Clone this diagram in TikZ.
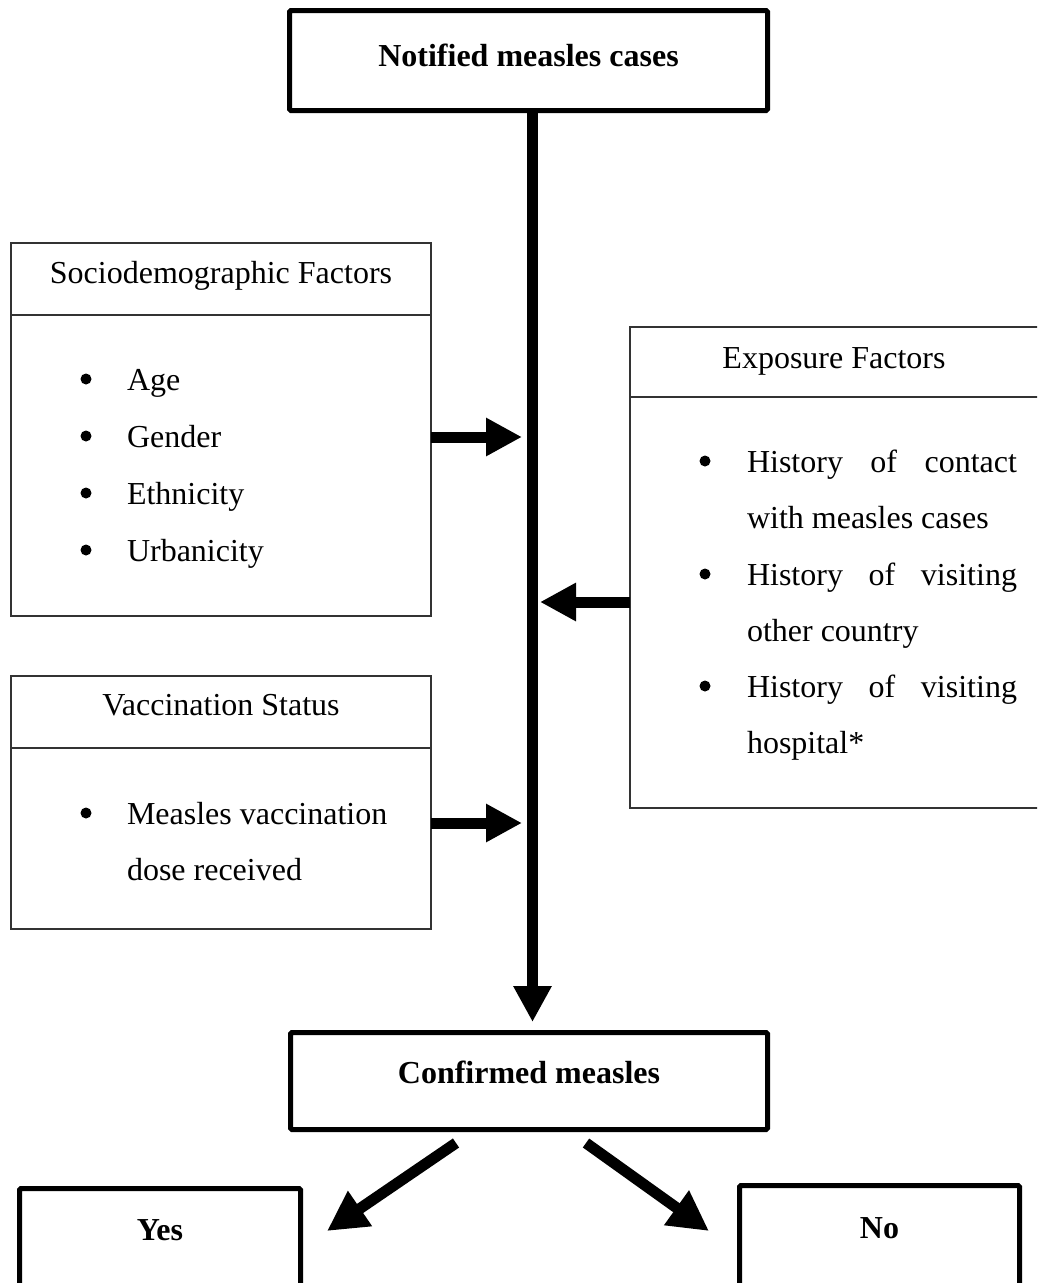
\documentclass[tikz,border=0pt]{standalone}
\usepackage{fontspec}
\setmainfont{Liberation Serif}
\usetikzlibrary{arrows.meta}
\begin{document}
\begin{tikzpicture}[x=1pt,y=-1pt,
  every node/.style={font=\fontsize{32}{38}\selectfont, inner sep=0pt, outer sep=0pt},
  heavybox/.style={draw, line width=5pt, rounded corners=1.5pt},
  lightbox/.style={draw=black!80, line width=1.5pt},
  divider/.style={draw=black!80, line width=1.5pt},
  boldtxt/.style={anchor=base, font=\fontsize{32}{38}\selectfont\bfseries},
  boxtitle/.style={anchor=base},
  item/.style={anchor=base west},
  bul/.style={circle, fill=black, minimum size=11pt, yshift=11pt},
  fat/.style={line width=11pt, -{Triangle[length=36pt,width=36pt]}},
  fatdiag/.style={line width=11pt, -{Triangle[length=40pt,width=40pt]}},
]
\path[use as bounding box, clip] (0,0) rectangle (1037,1283);

% main boxes
\node[heavybox, minimum width=478pt, minimum height=100pt] (top) at (528.5,60.5) {};
\node[boldtxt] (toptxt) at (528.5,66) {Notified measles cases};

\node[heavybox, minimum width=477pt, minimum height=97pt] (conf) at (529,1081) {};
\node[boldtxt] (conftxt) at (529,1083) {Confirmed measles};

\node[heavybox, minimum width=281pt, minimum height=160pt, anchor=north west] (yes) at (19.5,1188.5) {};
\node[boldtxt] (yestxt) at (160,1240) {Yes};

\node[heavybox, minimum width=280pt, minimum height=160pt, anchor=north west] (no) at (739.5,1185.5) {};
\node[boldtxt] (notxt) at (879.5,1238) {No};

% sociodemographic factors
\node[lightbox, minimum width=420pt, minimum height=373pt, anchor=north west] (soc) at (11,243) {};
\draw[divider] (soc.west |- 0,315) -- (soc.east |- 0,315);
\node[boxtitle] (soctitle) at (221,283) {Sociodemographic Factors};
\node[bul] (b1) at (86,390) {};
\node[item] (age) at (127,390) {Age};
\node[bul] (b2) at (86,447) {};
\node[item] (gender) at (127,447) {Gender};
\node[bul] (b3) at (86,504) {};
\node[item] (eth) at (127,504) {Ethnicity};
\node[bul] (b4) at (86,561) {};
\node[item] (urb) at (127,561) {Urbanicity};

% vaccination status
\node[lightbox, minimum width=420pt, minimum height=253pt, anchor=north west] (vac) at (11,676) {};
\draw[divider] (vac.west |- 0,748) -- (vac.east |- 0,748);
\node[boxtitle] (vactitle) at (221,715) {Vaccination Status};
\node[bul] (b5) at (86,824) {};
\node[item] (vac1) at (127,824) {Measles vaccination};
\node[item] (vac2) at (127,880) {dose received};

% exposure factors
\node[lightbox, minimum width=430pt, minimum height=481pt, anchor=north west] (exp) at (630,327) {};
\draw[divider] (exp.west |- 0,397) -- (exp.east |- 0,397);
\node[boxtitle] (exptitle) at (834,368) {Exposure Factors};
\node[bul] (b6) at (705,472) {};
\node[item] (e1) at (747,472) {\makebox[270pt][s]{History of contact}};
\node[item] (e2) at (747,528) {with measles cases};
\node[bul] (b7) at (705,585) {};
\node[item] (e3) at (747,585) {\makebox[270pt][s]{History of visiting}};
\node[item] (e4) at (747,641) {other country};
\node[bul] (b8) at (705,697) {};
\node[item] (e5) at (747,697) {\makebox[270pt][s]{History of visiting}};
\node[item] (e6) at (747,753) {hospital*};

% connectors
\coordinate (trunkend) at (532.5,1022);
\coordinate (in1) at (522,437);
\coordinate (in2) at (540,602);
\coordinate (in3) at (522,823);
\coordinate (ys) at (456,1143);
\coordinate (ye) at (327,1231);
\coordinate (ns) at (586,1143);
\coordinate (ne) at (709,1231);

\draw[fat] (top.south -| trunkend) -- (trunkend);
\draw[fat] (soc.east |- in1) -- (in1);
\draw[fat] (exp.west |- in2) -- (in2);
\draw[fat] (vac.east |- in3) -- (in3);
\draw[fatdiag] (ys) -- (ye);
\draw[fatdiag] (ns) -- (ne);
\end{tikzpicture}
\end{document}
